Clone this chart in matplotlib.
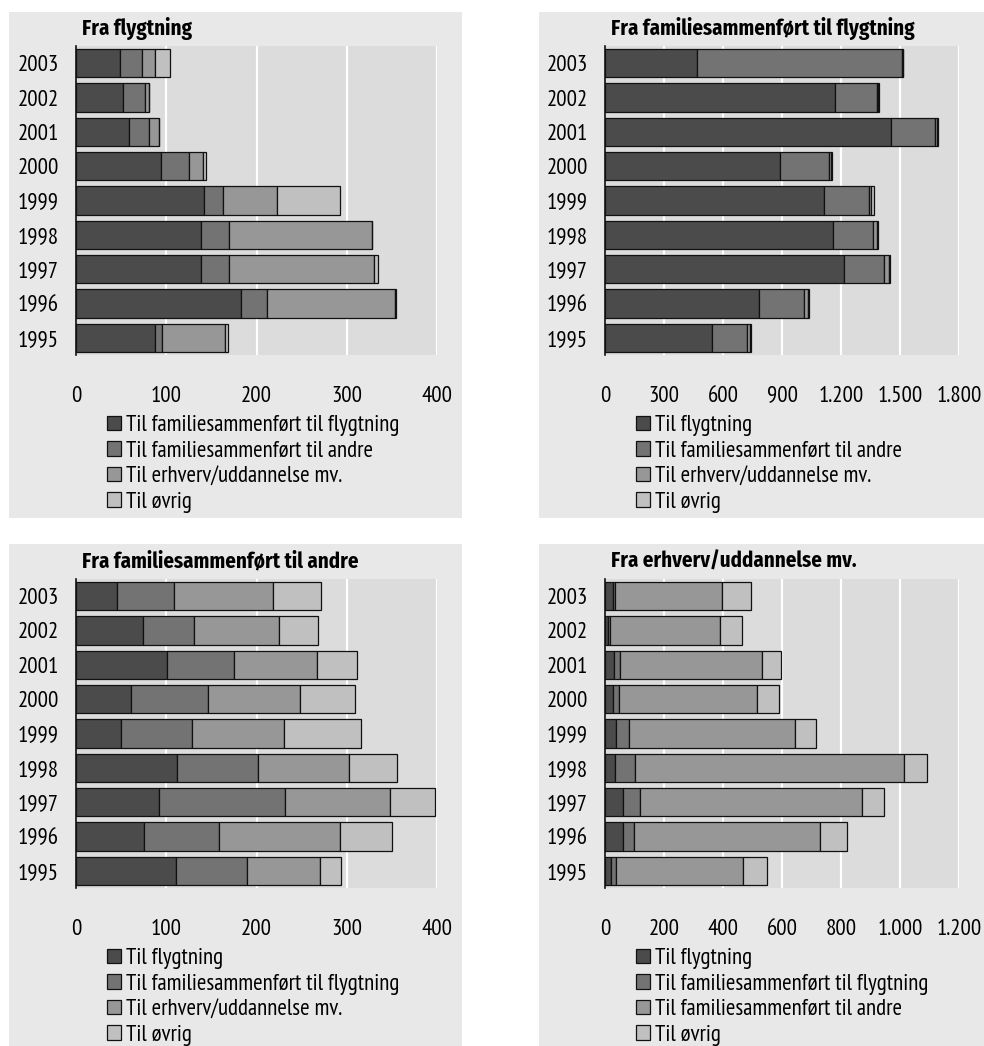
import numpy as np
import matplotlib
matplotlib.use('Agg')
import matplotlib.pyplot as plt
from matplotlib.patches import Rectangle
from matplotlib.ticker import FuncFormatter

plt.rcParams['font.family'] = ['PT Sans Narrow', 'Fira Sans Condensed', 'DejaVu Sans']
titleFont = ['Fira Sans Condensed', 'PT Sans Narrow', 'DejaVu Sans']

years = ['1995', '1996', '1997', '1998', '1999', '2000', '2001', '2002', '2003']
colors = ['#4b4b4b', '#737373', '#979797', '#c0c0c0']

# Fra flygtning
titleA = 'Fra flygtning'
labelsA = ['Til familiesammenført til flygtning', 'Til familiesammenført til andre',
           'Til erhverv/uddannelse mv.', 'Til øvrig']
a1 = [88, 183, 138, 138, 142, 94, 59, 52, 49]
a2 = [7, 29, 32, 32, 21, 31, 22, 24, 24]
a3 = [70, 141, 160, 158, 60, 16, 11, 5, 15]
a4 = [3, 2, 5, 0, 70, 3, 0, 0, 16]

# Fra familiesammenført til flygtning
titleB = 'Fra familiesammenført til flygtning'
labelsB = ['Til flygtning', 'Til familiesammenført til andre',
           'Til erhverv/uddannelse mv.', 'Til øvrig']
b1 = [542, 783, 1214, 1158, 1114, 888, 1456, 1171, 470]
b2 = [182, 227, 205, 206, 228, 253, 224, 214, 1038]
b3 = [15, 22, 24, 20, 9, 8, 10, 5, 5]
b4 = [5, 5, 4, 4, 15, 5, 5, 3, 4]

# Fra familiesammenført til andre
titleC = 'Fra familiesammenført til andre'
labelsC = ['Til flygtning', 'Til familiesammenført til flygtning',
           'Til erhverv/uddannelse mv.', 'Til øvrig']
c1 = [111, 75, 92, 112, 50, 61, 101, 74, 45]
c2 = [79, 84, 140, 90, 79, 85, 74, 57, 64]
c3 = [80, 133, 116, 101, 101, 102, 92, 94, 109]
c4 = [24, 58, 50, 53, 86, 61, 44, 43, 53]

# Fra erhverv/uddannelse mv.
titleD = 'Fra erhverv/uddannelse mv.'
labelsD = ['Til flygtning', 'Til familiesammenført til flygtning',
           'Til familiesammenført til andre', 'Til øvrig']
d1 = [21, 60, 60, 35, 37, 27, 31, 10, 27]
d2 = [17, 39, 60, 67, 44, 20, 20, 8, 7]
d3 = [431, 631, 751, 912, 562, 469, 480, 371, 363]
d4 = [80, 89, 74, 79, 73, 74, 67, 77, 98]

W, H = 984, 1046
fig = plt.figure(figsize=(W / 100, H / 100), dpi=100)
fig.patch.set_facecolor('white')


def px(x0, y0, x1, y1):
    # pixel box (top-left origin) -> figure fraction
    return [x0 / W, 1 - y1 / H, (x1 - x0) / W, (y1 - y0) / H]


def thousands(v, pos):
    return '{:,.0f}'.format(v).replace(',', '.')


def panel(bg, box, title, labels, series, xmax, xstep, legTop):
    fig.patches.append(Rectangle((bg[0] / W, 1 - bg[3] / H), (bg[2] - bg[0]) / W,
                                 (bg[3] - bg[1]) / H, transform=fig.transFigure,
                                 facecolor='#e8e8e8', edgecolor='none', zorder=-5))
    ax = fig.add_axes(px(*box))
    ax.set_facecolor('#dcdcdc')
    y = np.arange(len(years))
    left = np.zeros(len(years))
    handles = []
    for vals, col, lab in zip(series, colors, labels):
        vals = np.array(vals, dtype=float)
        h = ax.barh(y, vals, left=left, height=0.83, color=col, edgecolor='#111111',
                    linewidth=0.9, label=lab, zorder=3)
        handles.append(h)
        left = left + vals
    ax.set_xlim(0, xmax)
    ax.set_ylim(-0.5, len(years) - 0.5)
    ax.set_xticks(np.arange(0, xmax + 1, xstep))
    ax.xaxis.set_major_formatter(FuncFormatter(thousands))
    ax.set_yticks(y)
    ax.set_yticklabels(years)
    ax.tick_params(axis='x', length=0, pad=22, labelsize=16.5)
    ax.tick_params(axis='y', length=0, pad=12.5, labelsize=16.5)
    for xv in np.arange(xstep, xmax + 1, xstep):
        ax.axvline(xv, color='white', linewidth=1.6, zorder=1)
    for s in ['top', 'right', 'bottom']:
        ax.spines[s].set_visible(False)
    ax.spines['left'].set_color('#111111')
    ax.spines['left'].set_linewidth(1.2)
    ax.spines['left'].set_zorder(4)
    fig.text((box[0] + 6) / W, 1 - (bg[1] + 17) / H, title, fontsize=15,
             fontweight='bold', va='center', ha='left', family=titleFont)
    ax.legend(handles=handles, loc='upper left',
              bbox_to_anchor=((box[0] + 31) / W, 1 - legTop / H),
              bbox_transform=fig.transFigure, frameon=False, fontsize=16.5,
              borderpad=0, borderaxespad=0, handlelength=0.6, handleheight=0.6,
              handletextpad=0.25, labelspacing=0.2)
    return ax


panel((9, 12, 462, 518), (76, 46, 437, 355), titleA, labelsA, [a1, a2, a3, a4], 400, 100, 415)
panel((539, 12, 984, 518), (605, 46, 959, 355), titleB, labelsB, [b1, b2, b3, b4], 1800, 300, 415)
panel((9, 544, 462, 1046), (76, 579, 437, 888), titleC, labelsC, [c1, c2, c3, c4], 400, 100, 948)
panel((539, 544, 984, 1046), (605, 579, 959, 888), titleD, labelsD, [d1, d2, d3, d4], 1200, 200, 948)

plt.savefig('out.png', dpi=100)
